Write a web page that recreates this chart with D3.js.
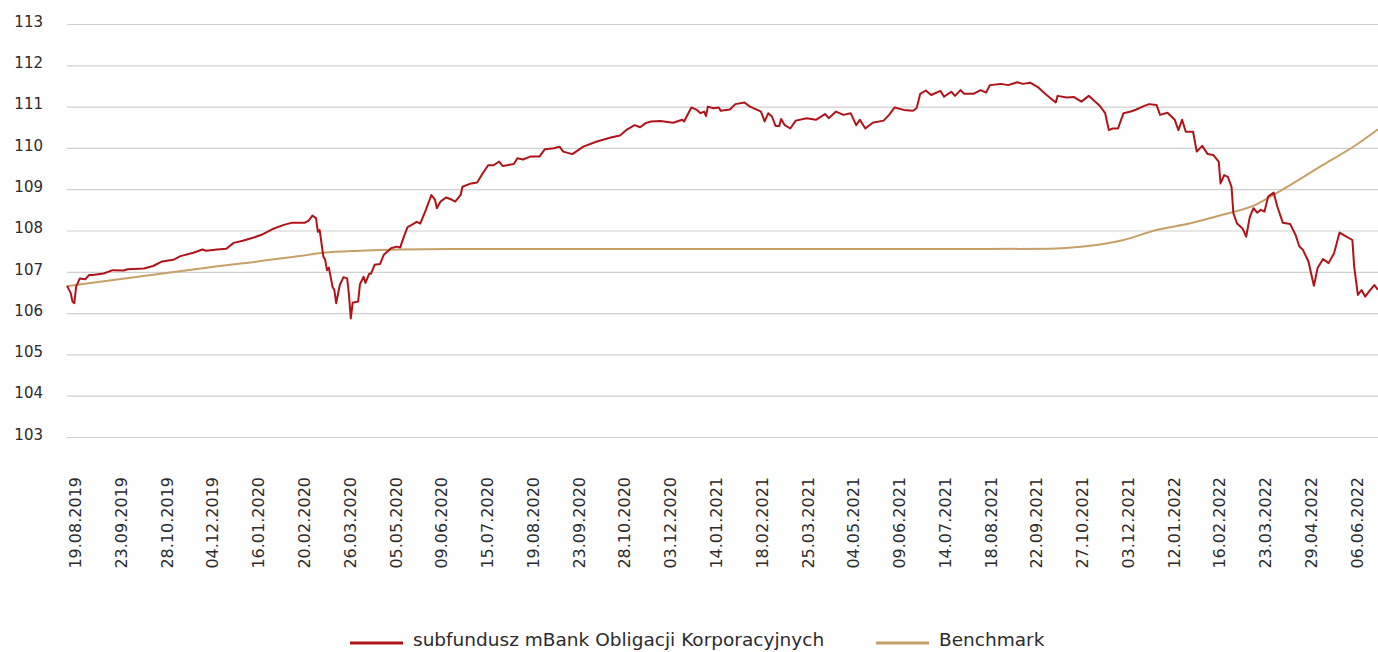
<!DOCTYPE html>
<html>
<head>
<meta charset="utf-8">
<script src="https://cdn.jsdelivr.net/npm/d3@7"></script>
<style>
  body { margin: 0; background: #fff; }
  #chart text { font-family: "DejaVu Sans", sans-serif; fill: #2b2b2b; }
</style>
</head>
<body>
<div id="chart"></div>
<script>
// category labels shown on the x axis (every 25th session)
var dateLabels = ["19.08.2019", "23.09.2019", "28.10.2019", "04.12.2019", "16.01.2020", "20.02.2020",
    "26.03.2020", "05.05.2020", "09.06.2020", "15.07.2020", "19.08.2020", "23.09.2020", "28.10.2020",
    "03.12.2020", "14.01.2021", "18.02.2021", "25.03.2021", "04.05.2021", "09.06.2021", "14.07.2021",
    "18.08.2021", "22.09.2021", "27.10.2021", "03.12.2021", "12.01.2022", "16.02.2022", "23.03.2022",
    "29.04.2022", "06.06.2022"];
var labelStep = 25;
var lastSession = 716;

var yTicks = [103, 104, 105, 106, 107, 108, 109, 110, 111, 112, 113];

// fund: session index / value
var fundDay = [0, 2, 3, 4, 5, 7, 10, 12, 14, 20, 25, 31, 33, 42, 47, 52, 58, 62, 69, 74, 76, 82, 87, 91, 96,
    102, 107, 112, 118, 123, 130, 132, 134, 136, 137, 138, 140, 141, 142, 143, 145, 146, 147, 149, 151, 153,
    154, 155, 156, 159, 160, 162, 163, 165, 166, 168, 171, 173, 175, 177, 180, 182, 184, 186, 188, 191, 193,
    196, 199, 201, 202, 204, 207, 210, 212, 215, 216, 220, 224, 227, 230, 233, 236, 238, 244, 246, 249, 253,
    258, 261, 266, 269, 271, 276, 282, 289, 297, 302, 306, 310, 313, 316, 319, 324, 331, 336, 337, 341, 344,
    346, 348, 349, 350, 353, 356, 357, 362, 365, 370, 373, 377, 379, 381, 383, 385, 387, 389, 390, 392, 395,
    398, 404, 409, 414, 416, 420, 424, 428, 431, 433, 436, 440, 446, 449, 452, 457, 462, 464, 466, 469, 472,
    477, 479, 483, 485, 488, 490, 495, 499, 502, 504, 510, 514, 519, 522, 526, 530, 535, 540, 541, 546, 550,
    554, 558, 561, 564, 567, 569, 571, 574, 577, 581, 584, 588, 591, 595, 597, 601, 605, 607, 609, 611, 615,
    617, 620, 623, 626, 629, 630, 632, 634, 636, 637, 639, 642, 644, 646, 648, 650, 652, 654, 656, 659, 661,
    664, 668, 671, 673, 675, 678, 681, 683, 686, 689, 692, 695, 698, 702, 703, 705, 707, 709, 711, 714, 716];
var fundValue = [106.66, 106.49, 106.28, 106.24, 106.64, 106.84, 106.82, 106.92, 106.92, 106.96, 107.04,
    107.03, 107.06, 107.08, 107.14, 107.25, 107.29, 107.38, 107.46, 107.54, 107.51, 107.54, 107.56, 107.70,
    107.75, 107.83, 107.91, 108.03, 108.13, 108.19, 108.19, 108.24, 108.36, 108.30, 107.97, 108.01, 107.37,
    107.29, 107.04, 107.10, 106.64, 106.56, 106.24, 106.68, 106.87, 106.84, 106.44, 105.87, 106.25, 106.28,
    106.70, 106.88, 106.73, 106.95, 106.95, 107.17, 107.19, 107.41, 107.49, 107.57, 107.61, 107.59, 107.85,
    108.08, 108.13, 108.21, 108.17, 108.50, 108.86, 108.74, 108.54, 108.70, 108.80, 108.75, 108.70, 108.86,
    109.06, 109.13, 109.16, 109.38, 109.58, 109.58, 109.67, 109.56, 109.61, 109.75, 109.72, 109.79, 109.79,
    109.97, 109.99, 110.03, 109.91, 109.85, 110.03, 110.15, 110.25, 110.30, 110.45, 110.55, 110.50, 110.60,
    110.64, 110.65, 110.61, 110.68, 110.64, 110.98, 110.92, 110.84, 110.88, 110.77, 111.00, 110.96, 110.98,
    110.90, 110.93, 111.06, 111.10, 111.00, 110.92, 110.88, 110.64, 110.84, 110.76, 110.53, 110.53, 110.70,
    110.55, 110.47, 110.66, 110.72, 110.68, 110.82, 110.72, 110.88, 110.80, 110.84, 110.55, 110.68, 110.47,
    110.61, 110.66, 110.80, 110.98, 110.92, 110.90, 110.96, 111.31, 111.39, 111.28, 111.38, 111.24, 111.36,
    111.26, 111.40, 111.31, 111.31, 111.40, 111.34, 111.52, 111.55, 111.52, 111.59, 111.55, 111.58, 111.48,
    111.28, 111.10, 111.26, 111.22, 111.23, 111.12, 111.26, 111.14, 111.02, 110.84, 110.43, 110.47, 110.47,
    110.84, 110.88, 110.93, 111.01, 111.06, 111.04, 110.80, 110.85, 110.68, 110.43, 110.68, 110.39, 110.39,
    109.91, 110.05, 109.85, 109.83, 109.67, 109.14, 109.34, 109.30, 109.06, 108.42, 108.17, 108.05, 107.85,
    108.33, 108.54, 108.43, 108.50, 108.46, 108.82, 108.92, 108.58, 108.19, 108.16, 107.89, 107.62, 107.53,
    107.25, 106.66, 107.09, 107.31, 107.21, 107.45, 107.95, 107.87, 107.77, 107.12, 106.44, 106.56, 106.40,
    106.52, 106.68, 106.56];

// benchmark: session index / value
var benchDay = [0, 18, 73, 127, 140, 160, 182, 209, 300, 400, 500, 537, 555, 577, 595, 613, 631, 650, 658,
    668, 686, 704, 716];
var benchValue = [106.65, 106.76, 107.08, 107.38, 107.46, 107.51, 107.54, 107.55, 107.55, 107.55, 107.55,
    107.56, 107.61, 107.77, 108.01, 108.17, 108.38, 108.64, 108.84, 109.10, 109.59, 110.07, 110.45];

var seriesNames = ["subfundusz mBank Obligacji Korporacyjnych", "Benchmark"];
var seriesColors = ["#b0141b", "#c6a068"];

var W = 1378, H = 652;
var plotLeft = 67, plotRight = 1378, plotTop = 24, plotBottom = 437;

var svg = d3.select("#chart").append("svg")
    .attr("width", W)
    .attr("height", H);

var x = d3.scaleLinear()
    .domain([0, lastSession])
    .range([plotLeft, plotRight]);

var y = d3.scaleLinear()
    .domain([103, 113])
    .range([plotBottom, plotTop]);

// grid + y labels
var yAxis = svg.append("g")
    .attr("transform", "translate(" + plotLeft + ",0)")
    .call(d3.axisLeft(y).tickValues(yTicks).tickSize(-(plotRight - plotLeft)).tickPadding(24).tickFormat(d3.format("d")));
yAxis.select(".domain").remove();
yAxis.selectAll(".tick line").attr("stroke", "#d0d0d0").attr("stroke-width", 1.2);
yAxis.selectAll(".tick text")
    .attr("font-size", 15)
    .attr("y", -3)
    .attr("dy", "0.35em");

// x labels
var labelIdx = dateLabels.map(function (d, i) { return i * labelStep; });
var xAxis = svg.append("g")
    .attr("transform", "translate(0," + plotBottom + ")")
    .call(d3.axisBottom(x).tickValues(labelIdx).tickSize(0).tickFormat(function (d, i) { return dateLabels[i]; }));
xAxis.select(".domain").remove();
xAxis.selectAll(".tick text")
    .attr("font-size", 16)
    .attr("text-anchor", "end")
    .attr("transform", "translate(8,40) rotate(-90)")
    .attr("x", 0)
    .attr("y", 0)
    .attr("dy", "0.35em");

var line = d3.line()
    .x(function (d) { return x(d[0]); })
    .y(function (d) { return y(d[1]); });

var bench = benchDay.map(function (d, i) { return [d, benchValue[i]]; });
var fund = fundDay.map(function (d, i) { return [d, fundValue[i]]; });

svg.append("path")
    .datum(bench)
    .attr("fill", "none")
    .attr("stroke", seriesColors[1])
    .attr("stroke-width", 2)
    .attr("d", line.curve(d3.curveMonotoneX));

svg.append("path")
    .datum(fund)
    .attr("fill", "none")
    .attr("stroke", seriesColors[0])
    .attr("stroke-width", 2)
    .attr("stroke-linejoin", "round")
    .attr("d", line.curve(d3.curveLinear));

// legend
var legendX = [350, 876];
var legend = svg.append("g")
    .selectAll("g")
    .data(seriesNames)
    .enter().append("g")
    .attr("transform", function (d, i) { return "translate(" + legendX[i] + ",640)"; });

legend.append("line")
    .attr("x1", 0)
    .attr("x2", 53)
    .attr("y1", 3)
    .attr("y2", 3)
    .attr("stroke", function (d, i) { return seriesColors[i]; })
    .attr("stroke-width", 3);

legend.append("text")
    .attr("x", 63)
    .attr("dy", "0.35em")
    .attr("font-size", 18.5)
    .text(function (d) { return d; });
</script>
</body>
</html>
